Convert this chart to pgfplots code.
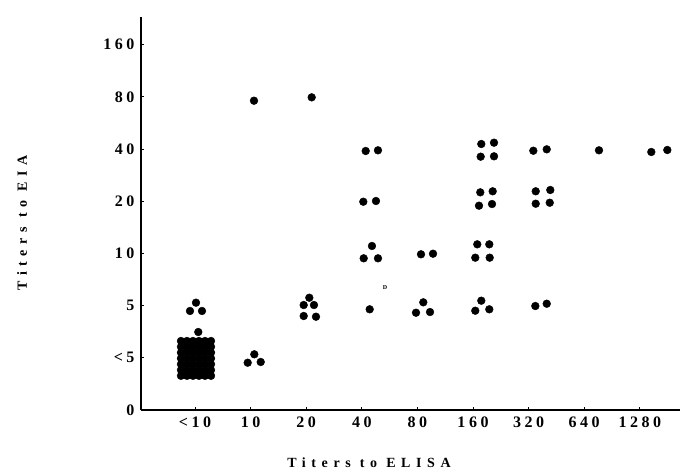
\documentclass[border=0pt]{standalone}
\usepackage{fontspec}
\setmainfont{Liberation Serif}
\newfontfamily\tickfont[LetterSpace=22]{Liberation Serif}
\newfontfamily\labfont[LetterSpace=40]{Liberation Serif}
\usepackage{pgfplots}
\pgfplotsset{compat=1.18}
\begin{document}
\begin{tikzpicture}[x=1pt,y=1pt]
\useasboundingbox (0,0) rectangle (682,472);
\begin{axis}[
  at={(141pt,62pt)}, anchor=south west,
  scale only axis, width=539pt, height=393pt,
  xmin=-0.971, xmax=8.723, ymin=0, ymax=7.529,
  axis lines=left,
  axis line style={line width=1.2pt,-},
  xtick={0,...,8},
  xticklabels={<10,10,20,40,80,160,320,640,1280},
  ytick={0,...,7},
  yticklabels={0,<5,5,10,20,40,80,160},
  tick align=inside, major tick length=3pt,
  tick style={black, line width=0.8pt},
  ticklabel style={font=\tickfont\bfseries\fontsize{16}{16}\selectfont},
  xticklabel style={yshift=-3pt},
  yticklabel style={xshift=-3pt},
  clip=false,
]
\addplot[only marks, mark=*, mark size=3.9pt, black] coordinates {
% <10 column
(0.018,2.056) (-0.090,1.897) (0.126,1.897)
(0.059,1.494)
(-0.252,1.322) (-0.144,1.322) (-0.036,1.322) (0.072,1.322) (0.180,1.322) (0.288,1.322)
(-0.252,1.211) (-0.144,1.211) (-0.036,1.211) (0.072,1.211) (0.180,1.211) (0.288,1.211)
(-0.252,1.100) (-0.144,1.100) (-0.036,1.100) (0.072,1.100) (0.180,1.100) (0.288,1.100)
(-0.252,0.989) (-0.144,0.989) (-0.036,0.989) (0.072,0.989) (0.180,0.989) (0.288,0.989)
(-0.252,0.877) (-0.144,0.877) (-0.036,0.877) (0.072,0.877) (0.180,0.877) (0.288,0.877)
(-0.252,0.766) (-0.144,0.766) (-0.036,0.766) (0.072,0.766) (0.180,0.766) (0.288,0.766)
(-0.252,0.655) (-0.144,0.655) (-0.036,0.655) (0.072,0.655) (0.180,0.655) (0.288,0.655)
% 10 column
(1.067,1.067) (0.948,0.906) (1.182,0.920)
(1.061,5.925)
% 20 column
(2.099,5.990)
(2.056,2.151) (1.955,2.011) (2.140,2.011) (1.955,1.801) (2.176,1.787)
% 40 column
(3.070,4.962) (3.291,4.975)
(3.027,3.990) (3.255,4.004)
(3.183,3.142) (3.034,2.906) (3.291,2.906)
(3.142,1.929)
% 80 column
(4.065,2.983) (4.281,2.994)
(4.106,2.063) (3.975,1.864) (4.227,1.877)
% 160 column
(5.149,5.096) (5.378,5.121) (5.138,4.853) (5.378,4.860)
(5.131,4.170) (5.354,4.190) (5.108,3.914) (5.342,3.946)
(5.077,3.174) (5.293,3.174) (5.041,2.918) (5.300,2.918)
(5.149,2.094) (5.041,1.902) (5.293,1.929)
% 320 column
(6.085,4.967) (6.326,4.994)
(6.128,4.190) (6.390,4.215) (6.128,3.952) (6.380,3.971)
(6.121,1.992) (6.326,2.036)
% 640
(7.266,4.975)
% 1280
(8.207,4.943) (8.495,4.981)
};
\node[font=\bfseries\fontsize{6}{6}\selectfont] at (axis cs:3.417,2.337) {D};
\end{axis}
\node[rotate=90, font=\labfont\bfseries\fontsize{14}{14}\selectfont] at (22,249) {Titers to EIA};
\node[font=\labfont\bfseries\fontsize{14}{14}\selectfont] at (369,9) {Titers to ELISA};
\end{tikzpicture}
\end{document}
